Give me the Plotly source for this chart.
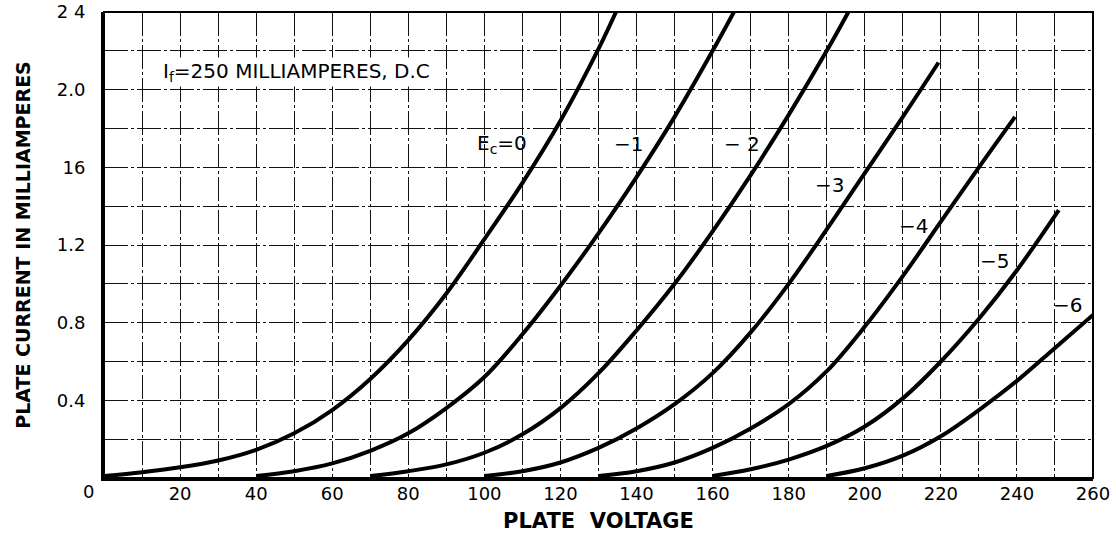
import plotly.graph_objects as go

# ---- data ----
volts_ec0 = [0, 10, 20, 30, 40, 50, 60, 70, 80, 90, 100, 110, 120, 130, 134.6]
amps_ec0 = [0.01, 0.03, 0.055, 0.09, 0.145, 0.23, 0.35, 0.51, 0.71, 0.95, 1.23, 1.52, 1.84, 2.21, 2.4]

volts_ec1 = [40, 50, 60, 70, 80, 90, 100, 110, 120, 130, 140, 150, 160, 165.6]
amps_ec1 = [0.01, 0.035, 0.075, 0.14, 0.23, 0.36, 0.52, 0.74, 0.99, 1.26, 1.55, 1.86, 2.2, 2.4]

volts_ec2 = [70, 80, 90, 100, 110, 120, 130, 140, 150, 160, 170, 180, 190, 195.7]
amps_ec2 = [0.01, 0.035, 0.07, 0.13, 0.225, 0.36, 0.54, 0.76, 1.0, 1.27, 1.56, 1.87, 2.2, 2.4]

volts_ec3 = [100, 110, 120, 130, 140, 150, 160, 170, 180, 190, 200, 210, 219.4]
amps_ec3 = [0.01, 0.035, 0.08, 0.155, 0.255, 0.38, 0.54, 0.75, 1.0, 1.28, 1.57, 1.86, 2.14]

volts_ec4 = [130, 140, 150, 160, 170, 180, 190, 200, 210, 220, 230, 239.5]
amps_ec4 = [0.01, 0.035, 0.08, 0.155, 0.255, 0.38, 0.55, 0.78, 1.04, 1.32, 1.6, 1.86]

volts_ec5 = [160, 170, 180, 190, 200, 210, 220, 230, 240, 251]
amps_ec5 = [0.01, 0.045, 0.095, 0.165, 0.265, 0.41, 0.6, 0.82, 1.07, 1.38]

volts_ec6 = [190, 200, 210, 220, 230, 240, 250, 260]
amps_ec6 = [0.01, 0.05, 0.115, 0.215, 0.35, 0.5, 0.67, 0.84]

curve_labels = ["E<sub>c</sub>=0", "\u22121", "\u2212 2", "\u22123", "\u22124", "\u22125", "\u22126"]
label_x = [104.6, 138, 167.8, 190.6, 212.7, 234.2, 253.2]
label_y = [1.72, 1.72, 1.72, 1.51, 1.30, 1.12, 0.89]

x_tick_vals = list(range(20, 261, 20))
x_tick_text = [str(v) for v in x_tick_vals]
x_minor_vals = list(range(10, 261, 20))
y_tick_vals = [0.4, 0.8, 1.2, 1.6, 2.0, 2.4]
y_tick_text = ["0.4", "0.8", "1.2", "16", "2.0", "2 4"]
y_minor_vals = [0.2, 0.6, 1.0, 1.4, 1.8, 2.2]

FONT = "DejaVu Sans"
GRID = dict(gridcolor="#111111", gridwidth=1, griddash="24px,3px,3px,3px")

fig = go.Figure()
series = [
    (volts_ec0, amps_ec0), (volts_ec1, amps_ec1), (volts_ec2, amps_ec2),
    (volts_ec3, amps_ec3), (volts_ec4, amps_ec4), (volts_ec5, amps_ec5),
    (volts_ec6, amps_ec6),
]
for (vx, vy), name in zip(series, curve_labels):
    fig.add_trace(go.Scatter(
        x=vx, y=vy, mode="lines", name=name,
        line=dict(color="black", width=4, shape="spline", smoothing=1.0),
        showlegend=False, hoverinfo="skip",
    ))

for txt, lx, ly in zip(curve_labels, label_x, label_y):
    fig.add_annotation(x=lx, y=ly, text=txt, showarrow=False,
                       font=dict(family=FONT, size=20, color="black"))

fig.add_annotation(x=50.5, y=2.09, text="I<sub>f</sub>=250 MILLIAMPERES, D.C",
                   showarrow=False, font=dict(family=FONT, size=20, color="black"),
                   bgcolor="white")
fig.add_annotation(x=0, y=0, text="0", showarrow=False, xshift=-16, yshift=-13,
                   font=dict(family=FONT, size=18, color="black"))

fig.update_xaxes(
    range=[0, 260], tickvals=x_tick_vals, ticktext=x_tick_text,
    showgrid=True, **GRID,
    minor=dict(tickvals=x_minor_vals, showgrid=True, ticks="", **GRID),
    showline=True, linecolor="black", linewidth=3,
    ticks="", ticklabelstandoff=-3, ticklabeloverflow="allow",
    tickfont=dict(family=FONT, size=18, color="black"),
    title=dict(text="<b>PLATE  VOLTAGE</b>", font=dict(family=FONT, size=21, color="black"),
               standoff=11),
    zeroline=False, fixedrange=True, automargin=False,
)
fig.update_yaxes(
    range=[0, 2.4], tickvals=y_tick_vals, ticktext=y_tick_text,
    showgrid=True, **GRID,
    minor=dict(tickvals=y_minor_vals, showgrid=True, ticks="", **GRID),
    showline=True, linecolor="black", linewidth=3,
    ticks="outside", ticklen=12, tickcolor="rgba(0,0,0,0)", ticklabeloverflow="allow",
    tickfont=dict(family=FONT, size=18, color="black"),
    title=dict(text="<b>PLATE CURRENT IN MILLIAMPERES</b>",
               font=dict(family=FONT, size=19, color="black"), standoff=22),
    zeroline=False, fixedrange=True, automargin=False,
)
fig.add_shape(type="rect", xref="paper", yref="paper", x0=0, y0=0, x1=1, y1=1,
              line=dict(color="black", width=2), layer="above")

fig.update_layout(
    width=1116, height=547,
    margin=dict(l=104, r=23, t=12, b=69, autoexpand=False),
    paper_bgcolor="white", plot_bgcolor="white",
    font=dict(family=FONT, color="black"),
)

fig.write_html("out.html", config={"displayModeBar": False},
               post_script="document.body.style.margin='0';")
